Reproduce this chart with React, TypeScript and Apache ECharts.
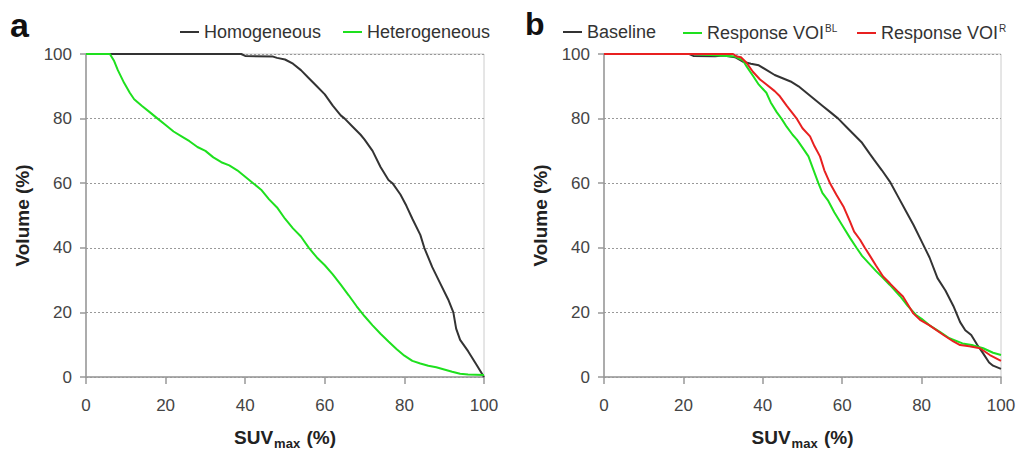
import React, { useEffect, useRef } from "react";
import * as echarts from "echarts";

const xTicks = [0, 20, 40, 60, 80, 100];
const yTicks = [0, 20, 40, 60, 80, 100];

// Panel a
const homogeneous: number[][] = [
  [0, 100], [39, 100], [40, 99.4], [47, 99.2], [48, 98.8], [50, 98.3], [52, 97], [54, 95],
  [56, 92.5], [58, 90], [60, 87.5], [62, 84], [64, 81], [65, 80], [67, 77.5], [69, 75],
  [70, 73.5], [72, 70], [74, 65], [76, 61], [77, 60], [79, 56.5], [80.5, 53], [82, 49],
  [84, 44], [85, 40], [87, 34], [89, 29], [91, 24], [92.3, 20], [93, 15], [94, 11.5],
  [96, 8], [98, 4], [100, 0],
];
const heterogeneous: number[][] = [
  [0, 100], [6, 100], [7, 98], [8, 95], [9.6, 91], [11, 88], [12.1, 86], [14, 84], [16, 82],
  [18, 80], [20, 78], [22, 76], [24, 74.5], [26, 73], [28, 71.2], [30, 70], [32, 68],
  [34, 66.5], [36, 65.5], [38, 64], [40, 62], [42, 60], [44, 58], [46, 55], [48, 52.5],
  [50, 49], [52, 46], [54, 43.5], [56, 40], [58, 37], [60, 34.6], [62, 31.8], [64, 28.6],
  [66, 25.3], [68, 21.9], [70, 18.8], [72, 16], [74, 13.4], [76, 11], [78, 8.7], [80, 6.6],
  [82, 5], [84, 4.2], [86, 3.5], [88, 3], [90, 2.3], [92, 1.6], [94, 1], [96, 0.8], [100, 0.6],
];

// Panel b
const baseline: number[][] = [
  [0, 100], [21.5, 100], [22.5, 99.4], [28, 99.3], [30, 99.5], [33, 99], [35, 97.6], [37, 97],
  [39, 96.5], [41, 95], [43, 93.5], [45, 92.5], [47, 91.5], [49, 90], [51, 88], [53, 86],
  [55, 84], [57, 82], [59, 80], [61, 77.5], [63, 75], [65, 72.5], [67, 69], [68, 67.3],
  [70, 64], [72, 60.5], [74, 56], [76, 51.5], [78, 47], [80, 42], [82, 37], [84, 30.6],
  [86, 26.8], [88, 22], [89.7, 17], [91, 14.5], [92.5, 13], [94, 10], [95.5, 7.3], [97, 4.5],
  [98, 3.5], [100, 2.5],
];
const responseBL: number[][] = [
  [0, 100], [22, 100], [28, 99.6], [33, 99.2], [35, 98], [36, 96], [37.6, 93.1], [39, 90.5],
  [40.9, 88], [42, 85], [43.5, 82], [44.7, 80], [46, 77.5], [47.5, 75], [48.6, 73.5], [50, 71],
  [51.5, 68.3], [52.5, 65], [54, 60], [55, 57], [56.5, 54.5], [58, 51], [60, 47], [62, 43],
  [63.6, 40], [65, 37.5], [66.5, 35.5], [68.6, 32.7], [70, 31], [72, 28.5], [74.6, 25],
  [76.5, 22], [78.6, 19.2], [80, 18], [82, 16], [84.6, 14], [87, 12], [90.3, 10.4], [93, 9.8],
  [95.5, 8.9], [98, 7.5], [100, 6.8],
];
const responseR: number[][] = [
  [0, 100], [32.5, 100], [33.5, 99.2], [34.5, 99], [35.9, 97.3], [37.5, 94.5], [39.3, 92.1],
  [41, 90.5], [43, 88.5], [44.3, 86.9], [46, 84], [48.6, 79.9], [50, 77], [51.9, 74.5],
  [53, 71.5], [54.4, 68.3], [55.5, 64], [57, 59.8], [58.5, 56.5], [60.3, 52.8], [62, 48],
  [63, 45], [64.5, 42.5], [65.7, 40], [67, 37.5], [68.5, 34.5], [70.3, 31.1], [72, 29],
  [74, 26.5], [75.3, 24.9], [77, 21.5], [77.9, 19.7], [79.6, 17.7], [82, 16], [85.5, 13],
  [88, 11], [89.7, 9.9], [92, 9.5], [94.7, 8.9], [97.2, 6.8], [100, 5],
];

const FONT = "'Liberation Sans', Arial, sans-serif";
const BLACK = "#333333";
const GREEN = "#1ee01e";
const RED = "#e82020";

function makeX(gridIndex: number) {
  return {
    type: "value",
    gridIndex,
    min: xTicks[0],
    max: xTicks[xTicks.length - 1],
    interval: 20,
    name: "{a|SUV}{b|max}{a| (%)}",
    nameLocation: "middle",
    nameGap: 50,
    nameTextStyle: {
      rich: {
        a: { fontSize: 19, fontWeight: "bold", color: "#222", fontFamily: FONT, lineHeight: 20 },
        b: { fontSize: 13, fontWeight: "bold", color: "#222", fontFamily: FONT, verticalAlign: "bottom", lineHeight: 13, padding: [0, 1, -3, 1] },
      },
    },
    axisLine: { show: true, lineStyle: { color: "#999", width: 1.5 } },
    axisTick: { show: true, inside: false, length: 7, lineStyle: { color: "#999", width: 1.5 } },
    axisLabel: { fontSize: 17, color: "#444", fontFamily: FONT, margin: 20 },
    splitLine: { show: false },
  };
}

function makeY(gridIndex: number) {
  return {
    type: "value",
    gridIndex,
    min: yTicks[0],
    max: yTicks[yTicks.length - 1],
    interval: 20,
    name: "Volume (%)",
    nameLocation: "middle",
    nameGap: 54,
    nameTextStyle: { fontSize: 19, fontWeight: "bold", color: "#222", fontFamily: FONT },
    axisLine: { show: true, lineStyle: { color: "#999", width: 1.5 } },
    axisTick: { show: true, inside: false, length: 6, lineStyle: { color: "#999", width: 1.5 } },
    axisLabel: { fontSize: 17, color: "#444", fontFamily: FONT, margin: 14 },
    splitLine: { show: true, lineStyle: { color: "#999", type: [2, 2], width: 1 } },
  };
}

function makeLegend(name: string, left: number, text?: string) {
  return {
    data: [name],
    left,
    top: 23,
    icon: "rect",
    itemWidth: 19,
    itemHeight: 2,
    padding: 0,
    formatter: text ? () => text : undefined,
    textStyle: {
      fontSize: 18,
      color: "#333",
      fontFamily: FONT,
      rich: {
        t: { fontSize: 18, color: "#333", fontFamily: FONT, lineHeight: 20 },
        s: { fontSize: 10, color: "#333", fontFamily: FONT, verticalAlign: "top", lineHeight: 10, padding: [0, 0, 0, 1] },
      },
    },
  };
}

function lineSeries(name: string, data: number[][], color: string, idx: number) {
  return {
    type: "line",
    name,
    data,
    xAxisIndex: idx,
    yAxisIndex: idx,
    showSymbol: false,
    symbol: "none",
    color,
    lineStyle: { color, width: 2 },
    itemStyle: { color },
  };
}

export default function App() {
  const ref = useRef<HTMLDivElement>(null);
  useEffect(() => {
    if (!ref.current) return;
    const chart = echarts.init(ref.current, undefined, { renderer: "svg" });
    chart.setOption({
      animation: false,
      backgroundColor: "#ffffff",
      grid: [
        { left: 86, right: 533, top: 54, bottom: 76, show: true, borderColor: "#cccccc", borderWidth: 1, outerBoundsMode: "none", containLabel: false },
        { left: 604, right: 16, top: 54, bottom: 76, show: true, borderColor: "#cccccc", borderWidth: 1, outerBoundsMode: "none", containLabel: false },
      ],
      xAxis: [makeX(0), makeX(1)],
      yAxis: [makeY(0), makeY(1)],
      legend: [
        makeLegend("Homogeneous", 180),
        makeLegend("Heterogeneous", 343),
        makeLegend("Baseline", 563),
        makeLegend("Response VOI BL", 683, "{t|Response VOI}{s|BL}"),
        makeLegend("Response VOI R", 857, "{t|Response VOI}{s|R}"),
      ],
      series: [
        lineSeries("Homogeneous", homogeneous, BLACK, 0),
        lineSeries("Heterogeneous", heterogeneous, GREEN, 0),
        lineSeries("Baseline", baseline, BLACK, 1),
        lineSeries("Response VOI BL", responseBL, GREEN, 1),
        lineSeries("Response VOI R", responseR, RED, 1),
      ],
      graphic: [
        { type: "text", left: 10, top: 8, style: { text: "a", fontSize: 34, fontWeight: "bold", fill: "#111", fontFamily: FONT } },
        { type: "text", left: 525, top: 8, style: { text: "b", fontSize: 32, fontWeight: "bold", fill: "#111", fontFamily: FONT } },
      ],
    });
    return () => chart.dispose();
  }, []);
  return (
    <div
      ref={ref}
      style={{ position: "fixed", left: 0, top: 0, width: 1017, height: 453, background: "#fff" }}
    />
  );
}
